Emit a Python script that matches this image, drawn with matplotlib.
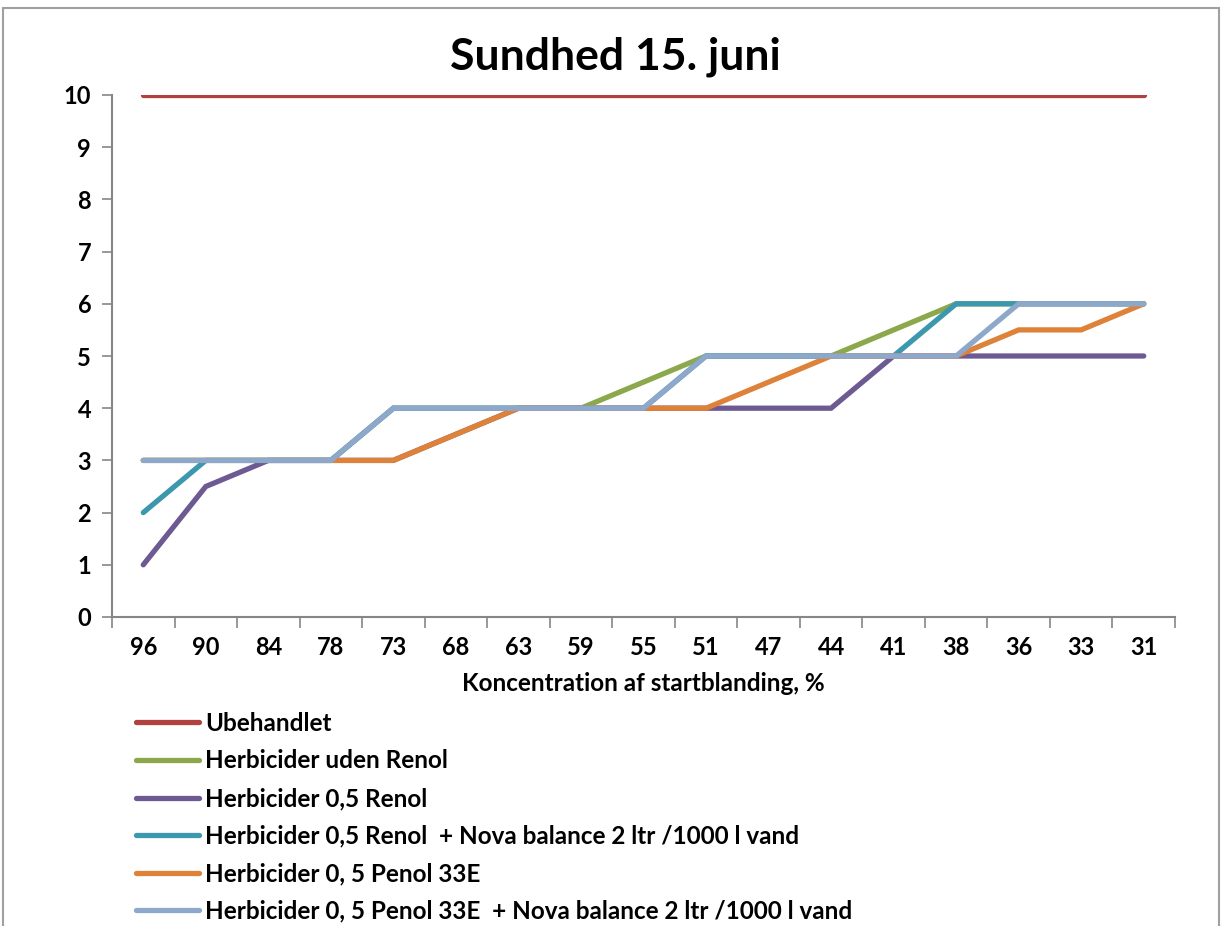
import matplotlib
matplotlib.use("Agg")
import matplotlib.pyplot as plt
import numpy as np
from matplotlib.patches import Rectangle

categories = ["96", "90", "84", "78", "73", "68", "63", "59", "55",
              "51", "47", "44", "41", "38", "36", "33", "31"]

ubehandlet = [10] * 17
uden_renol = [3, 3, 3, 3, 4, 4, 4, 4, 4.5, 5, 5, 5, 5.5, 6, 6, 6, 6]
renol_05 = [1, 2.5, 3, 3, 3, 3.5, 4, 4, 4, 4, 4, 4, 5, 5, 5, 5, 5]
renol_nova = [2, 3, 3, 3, 4, 4, 4, 4, 4, 5, 5, 5, 5, 6, 6, 6, 6]
penol_05 = [3, 3, 3, 3, 3, 3.5, 4, 4, 4, 4, 4.5, 5, 5, 5, 5.5, 5.5, 6]
penol_nova = [3, 3, 3, 3, 4, 4, 4, 4, 4, 5, 5, 5, 5, 5, 6, 6, 6]

series = [
    ("Ubehandlet", ubehandlet, "#B0413E"),
    ("Herbicider uden Renol", uden_renol, "#8BA94C"),
    ("Herbicider 0,5 Renol", renol_05, "#6E5A92"),
    ("Herbicider 0,5 Renol  + Nova balance 2 ltr /1000 l vand", renol_nova, "#3D98AE"),
    ("Herbicider 0, 5 Penol 33E", penol_05, "#DE823A"),
    ("Herbicider 0, 5 Penol 33E  + Nova balance 2 ltr /1000 l vand", penol_nova, "#8EA8CC"),
]

plt.rcParams["font.family"] = ["Lato", "DejaVu Sans"]
GRAY = "#868686"

fig = plt.figure(figsize=(12.23, 9.26), dpi=100)
fig.patches.append(Rectangle((3 / 1223, -0.05), 1216 / 1223, 1.05 - 8 / 926,
                             transform=fig.transFigure, fill=False,
                             edgecolor="#A0A0A0", linewidth=1.5))

ax = fig.add_axes([112 / 1223, 1 - 617 / 926, 1063 / 1223, 522 / 926])
x = np.arange(len(categories))
handles = []
for label, values, color in series:
    (line,) = ax.plot(x, values, color=color, linewidth=3.8,
                      solid_capstyle="round", solid_joinstyle="miter", label=label)
    handles.append(line)

ax.set_xlim(-0.5, len(categories) - 0.5)
ax.set_ylim(0, 10)
ax.set_yticks(range(0, 11))
ax.set_xticks(x)
ax.set_xticklabels(categories)
ax.set_xticks(np.arange(-0.5, len(categories)), minor=True)
ax.tick_params(axis="x", which="major", length=0, pad=14, labelsize=17)
ax.tick_params(axis="x", which="minor", length=8, color=GRAY, width=1.2)
ax.tick_params(axis="y", length=7, color=GRAY, width=1.2, pad=8, labelsize=17)
for lbl in ax.get_xticklabels() + ax.get_yticklabels():
    lbl.set_fontweight("bold")
for side in ("top", "right"):
    ax.spines[side].set_visible(False)
for side in ("left", "bottom"):
    ax.spines[side].set_color(GRAY)
    ax.spines[side].set_linewidth(1.5)

ax.set_xlabel("Koncentration af startblanding, %", fontsize=17.5,
              fontweight="bold", labelpad=9)
fig.text(615 / 1223, 1 - 57 / 926, "Sundhed 15. juni", fontsize=32,
         fontweight="bold", ha="center", va="center")

fig.legend(handles=handles, loc="upper left",
           bbox_to_anchor=(114 / 1223, 1 - 690 / 926), frameon=False,
           handlelength=2.6, handletextpad=0.25, labelspacing=0.6,
           prop={"weight": "bold", "size": 17.5})

fig.savefig("out.png", dpi=100)
